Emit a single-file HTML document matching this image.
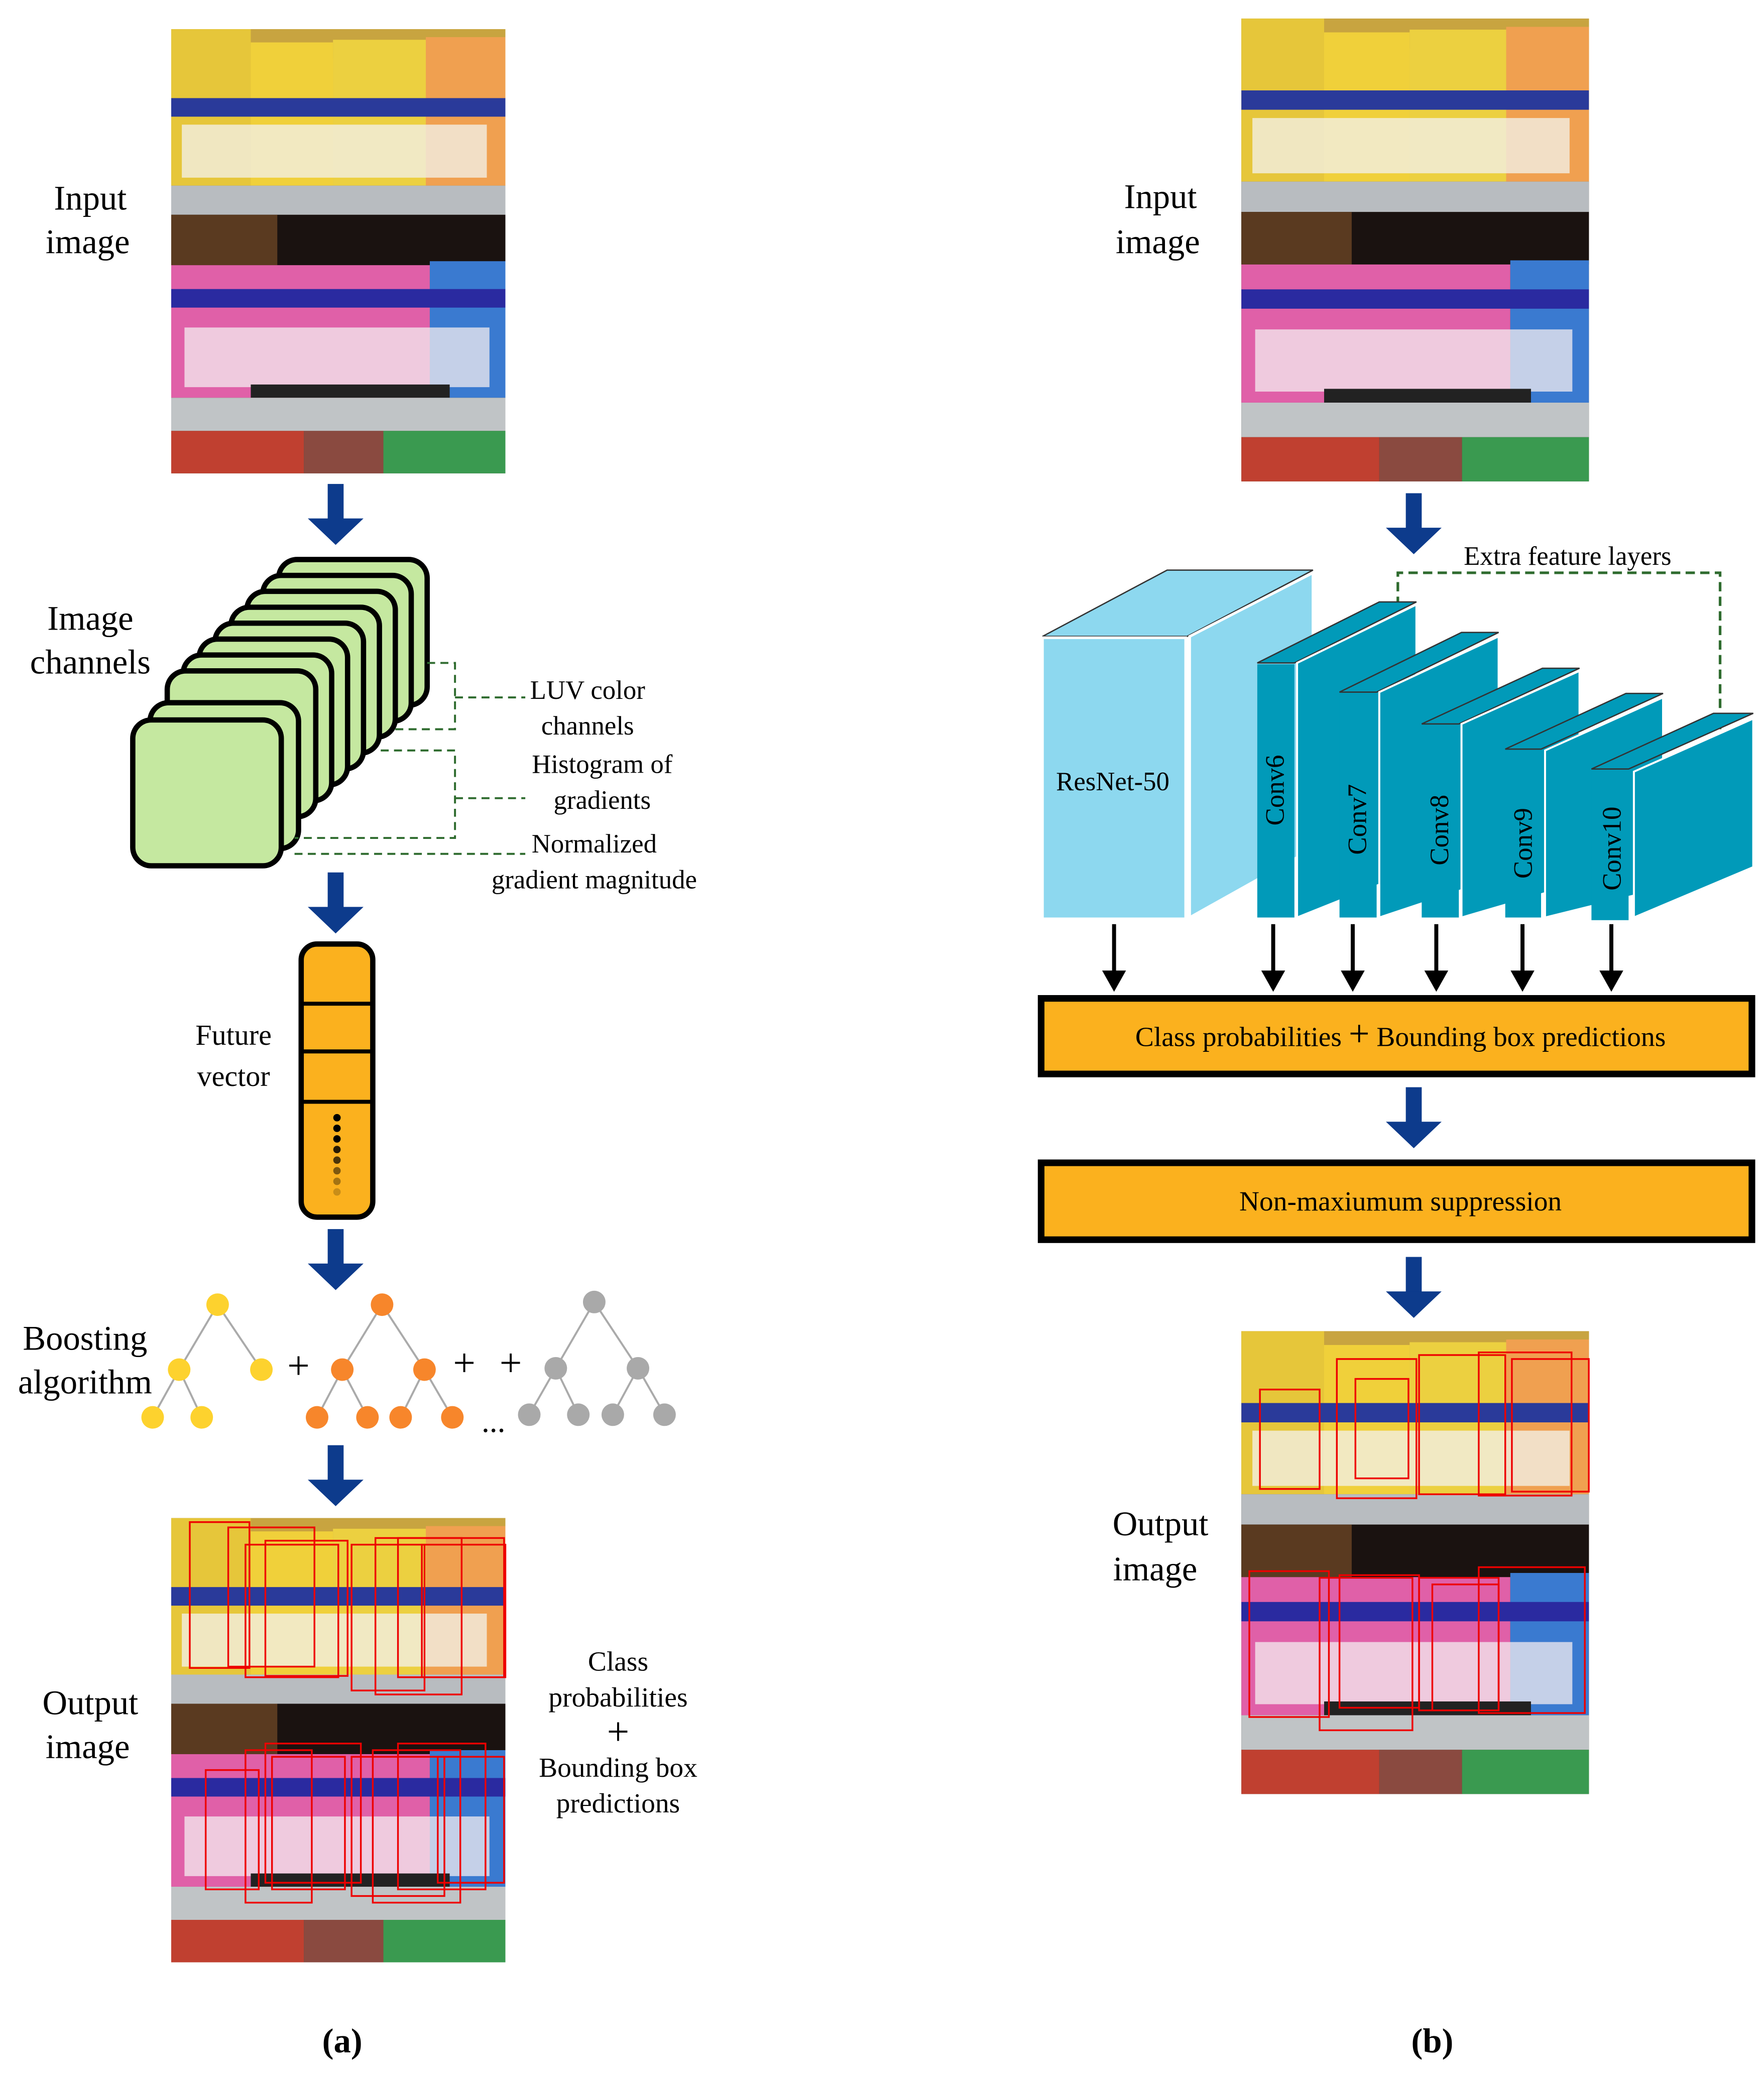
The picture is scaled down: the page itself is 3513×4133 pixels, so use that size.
<!DOCTYPE html>
<html><head><meta charset="utf-8"><style>
html,body{margin:0;padding:0;background:#fff}
svg{display:block}
text{font-family:"Liberation Serif",serif;fill:#000}
</style></head><body>
<svg width="3513" height="4133" viewBox="0 0 1330 1565" xmlns="http://www.w3.org/2000/svg">
<defs>
<g id="photo">
<rect x="0" y="0" width="252" height="335" fill="#3a2a1a"/>
<rect x="0" y="0" width="252" height="118" fill="#e9c232"/>
<rect x="0" y="0" width="252" height="22" fill="#c8a440"/>
<rect x="0" y="0" width="60" height="118" fill="#e6c63a"/>
<rect x="60" y="10" width="62" height="108" fill="#f0d03a"/>
<rect x="122" y="8" width="70" height="110" fill="#ecd040"/>
<rect x="192" y="6" width="60" height="112" fill="#f0a050"/>
<rect x="0" y="52" width="252" height="14" fill="#2a3a9a"/>
<rect x="8" y="72" width="230" height="40" fill="#f2efe4" opacity="0.8"/>
<rect x="0" y="118" width="252" height="22" fill="#b8bcc0"/>
<rect x="0" y="140" width="252" height="38" fill="#1a1210"/>
<rect x="0" y="140" width="80" height="38" fill="#5a3a20"/>
<rect x="0" y="178" width="195" height="100" fill="#e060a8"/>
<rect x="195" y="175" width="57" height="103" fill="#3a7ad0"/>
<rect x="0" y="196" width="252" height="14" fill="#2a2aa0"/>
<rect x="10" y="225" width="230" height="45" fill="#f4eef0" opacity="0.75"/>
<rect x="60" y="268" width="150" height="10" fill="#222"/>
<rect x="0" y="278" width="252" height="25" fill="#c0c4c6"/>
<rect x="0" y="303" width="100" height="32" fill="#c04030"/>
<rect x="100" y="303" width="60" height="32" fill="#8a4a40"/>
<rect x="160" y="303" width="92" height="32" fill="#3a9a50"/>
</g>
<g id="arr"><rect x="-6" y="0" width="12" height="28" fill="#0d3b8c"/><polygon points="-21,26 21,26 0,46" fill="#0d3b8c"/></g>
<g id="ch"><rect x="0" y="0" width="112" height="110" rx="14" fill="#c5e8a0" stroke="#000" stroke-width="4"/></g>
</defs>

<!-- LEFT -->
<use href="#photo" x="129" y="22"/>
<text x="68" y="158" font-size="26" text-anchor="middle">Input</text>
<text x="66" y="191" font-size="26" text-anchor="middle">image</text>
<use href="#arr" x="253" y="365"/>

<use href="#ch" x="210" y="422"/><use href="#ch" x="198" y="434"/><use href="#ch" x="186" y="446"/><use href="#ch" x="174" y="458"/><use href="#ch" x="162" y="470"/><use href="#ch" x="150" y="482"/><use href="#ch" x="138" y="494"/><use href="#ch" x="126" y="506"/><use href="#ch" x="113" y="530"/><use href="#ch" x="100" y="543"/>
<text x="68" y="475" font-size="26" text-anchor="middle">Image</text>
<text x="68" y="508" font-size="26" text-anchor="middle">channels</text>
<g fill="none" stroke="#2e6b2e" stroke-width="1.5" stroke-dasharray="6,4">
<path d="M322,500 H343 V550 H296"/><path d="M343,526 H396"/>
<path d="M287,566 H343 V632 H222"/><path d="M343,602 H396"/>
<path d="M222,644 H396"/>
</g>
<text x="443" y="527" font-size="20" text-anchor="middle">LUV color</text>
<text x="443" y="554" font-size="20" text-anchor="middle">channels</text>
<text x="454" y="583" font-size="20" text-anchor="middle">Histogram of</text>
<text x="454" y="610" font-size="20" text-anchor="middle">gradients</text>
<text x="448" y="643" font-size="20" text-anchor="middle">Normalized</text>
<text x="448" y="670" font-size="20" text-anchor="middle">gradient magnitude</text>
<use href="#arr" x="253" y="658"/>

<rect x="227" y="712" width="54" height="206" rx="12" fill="#fbb11e" stroke="#000" stroke-width="4"/>
<path d="M227,757 H281 M227,793 H281 M227,831 H281" stroke="#000" stroke-width="3"/>
<g fill="#000"><circle cx="254" cy="843" r="2.8"/><circle cx="254" cy="851" r="2.8"/><circle cx="254" cy="859" r="2.8"/><circle cx="254" cy="867" r="2.8" opacity="0.85"/><circle cx="254" cy="875" r="2.8" opacity="0.7"/><circle cx="254" cy="883" r="2.8" opacity="0.5"/><circle cx="254" cy="891" r="2.8" opacity="0.35"/><circle cx="254" cy="899" r="2.8" opacity="0.2"/></g>
<text x="176" y="788" font-size="22" text-anchor="middle">Future</text>
<text x="176" y="819" font-size="22" text-anchor="middle">vector</text>
<use href="#arr" x="253" y="927"/>

<g stroke="#aaa" stroke-width="1.5" fill="none">
<path d="M164,984 L135,1033 L115,1069 M135,1033 L152,1069 M164,984 L197,1033"/>
<path d="M288,984 L258,1033 L239,1069 M258,1033 L277,1069 M288,984 L320,1033 L302,1069 M320,1033 L341,1069"/>
<path d="M448,982 L419,1032 L399,1067 M419,1032 L436,1067 M448,982 L481,1032 L462,1067 M481,1032 L501,1067"/>
</g>
<g fill="#fdd22e"><circle cx="164" cy="984" r="8.5"/><circle cx="135" cy="1033" r="8.5"/><circle cx="197" cy="1033" r="8.5"/><circle cx="115" cy="1069" r="8.5"/><circle cx="152" cy="1069" r="8.5"/></g>
<g fill="#f7862b"><circle cx="288" cy="984" r="8.5"/><circle cx="258" cy="1033" r="8.5"/><circle cx="320" cy="1033" r="8.5"/><circle cx="239" cy="1069" r="8.5"/><circle cx="277" cy="1069" r="8.5"/><circle cx="302" cy="1069" r="8.5"/><circle cx="341" cy="1069" r="8.5"/></g>
<g fill="#a9a9a9"><circle cx="448" cy="982" r="8.5"/><circle cx="419" cy="1032" r="8.5"/><circle cx="481" cy="1032" r="8.5"/><circle cx="399" cy="1067" r="8.5"/><circle cx="436" cy="1067" r="8.5"/><circle cx="462" cy="1067" r="8.5"/><circle cx="501" cy="1067" r="8.5"/></g>
<text x="225" y="1040" font-size="30" text-anchor="middle">+</text>
<text x="350" y="1038" font-size="30" text-anchor="middle">+</text>
<text x="385" y="1038" font-size="30" text-anchor="middle">+</text>
<text x="372" y="1080" font-size="24" text-anchor="middle">...</text>
<text x="64" y="1018" font-size="26" text-anchor="middle">Boosting</text>
<text x="64" y="1051" font-size="26" text-anchor="middle">algorithm</text>
<use href="#arr" x="253" y="1090"/>

<use href="#photo" x="129" y="1145"/>
<g fill="none" stroke="#e00" stroke-width="1.3">
<rect x="143" y="1148" width="45" height="110"/><rect x="172" y="1152" width="65" height="105"/><rect x="185" y="1165" width="70" height="100"/><rect x="200" y="1162" width="62" height="102"/><rect x="265" y="1165" width="55" height="110"/><rect x="283" y="1160" width="65" height="118"/><rect x="300" y="1160" width="80" height="105"/><rect x="318" y="1165" width="63" height="100"/>
<rect x="185" y="1320" width="50" height="115"/><rect x="200" y="1315" width="72" height="105"/><rect x="205" y="1325" width="55" height="100"/><rect x="265" y="1325" width="70" height="105"/><rect x="281" y="1320" width="66" height="115"/><rect x="300" y="1315" width="66" height="110"/><rect x="330" y="1325" width="50" height="95"/><rect x="155" y="1335" width="40" height="90"/>
</g>
<text x="68" y="1293" font-size="26" text-anchor="middle">Output</text>
<text x="66" y="1326" font-size="26" text-anchor="middle">image</text>
<text x="466" y="1260" font-size="21" text-anchor="middle">Class</text>
<text x="466" y="1287" font-size="21" text-anchor="middle">probabilities</text>
<text x="466" y="1316" font-size="30" text-anchor="middle">+</text>
<text x="466" y="1340" font-size="21" text-anchor="middle">Bounding box</text>
<text x="466" y="1367" font-size="21" text-anchor="middle">predictions</text>
<text x="258" y="1548" font-size="26" text-anchor="middle" font-weight="bold">(a)</text>

<!-- RIGHT -->
<use href="#photo" transform="translate(936,14) scale(1.04,1.042)"/>
<text x="875" y="157" font-size="26" text-anchor="middle">Input</text>
<text x="873" y="191" font-size="26" text-anchor="middle">image</text>
<use href="#arr" x="1066" y="372"/>
<text x="1182" y="426" font-size="20" text-anchor="middle">Extra feature layers</text>
<path d="M1054,457 V432 H1297 V550" fill="none" stroke="#2e6b2e" stroke-width="2" stroke-dasharray="7,4"/>

<polygon points="786,480 880,430 990,430 895,480" fill="#8dd8ef" stroke="#333" stroke-width="1"/>
<polygon points="897,480 990,432 990,640 897,692" fill="#8dd8ef" stroke="#fff" stroke-width="2"/>
<rect x="786" y="481" width="108" height="212" fill="#8dd8ef" stroke="#fff" stroke-width="2"/>
<text x="839" y="596" font-size="20" text-anchor="middle">ResNet-50</text>

<g fill="#019ab9">
<polygon points="948,500 1040,454 1068,454 976,500" stroke="#333" stroke-width="1"/><polygon points="978,500 1068,456 1068,656 978,692" stroke="#fff" stroke-width="1.5"/><rect x="948" y="501" width="28" height="191"/>
<polygon points="1010,522 1102,477 1130,477 1038,522" stroke="#333" stroke-width="1"/><polygon points="1040,522 1130,480 1130,662 1040,692" stroke="#fff" stroke-width="1.5"/><rect x="1010" y="523" width="28" height="169"/>
<polygon points="1072,546 1163,504 1191,504 1100,546" stroke="#333" stroke-width="1"/><polygon points="1102,546 1191,506 1191,666 1102,692" stroke="#fff" stroke-width="1.5"/><rect x="1072" y="547" width="28" height="145"/>
<polygon points="1135,565 1226,523 1254,523 1162,565" stroke="#333" stroke-width="1"/><polygon points="1165,566 1254,526 1254,670 1165,692" stroke="#fff" stroke-width="1.5"/><rect x="1135" y="566" width="27" height="126"/>
<polygon points="1200,580 1292,538 1322,538 1228,580" stroke="#333" stroke-width="1"/><polygon points="1232,582 1322,542 1322,654 1232,692" stroke="#fff" stroke-width="1.5"/><rect x="1200" y="581" width="28" height="113"/>
</g>
<g font-size="20">
<text transform="translate(968,596) rotate(-90)" text-anchor="middle">Conv6</text>
<text transform="translate(1030,618) rotate(-90)" text-anchor="middle">Conv7</text>
<text transform="translate(1092,626) rotate(-90)" text-anchor="middle">Conv8</text>
<text transform="translate(1155,636) rotate(-90)" text-anchor="middle">Conv9</text>
<text transform="translate(1222,640) rotate(-90)" text-anchor="middle">Conv10</text>
</g>
<g stroke="#000" stroke-width="3">
<path d="M840,697 V738 M960,697 V738 M1020,697 V738 M1083,697 V738 M1148,697 V738 M1215,697 V738"/>
</g>
<g fill="#000">
<polygon points="831,732 849,732 840,748"/><polygon points="951,732 969,732 960,748"/><polygon points="1011,732 1029,732 1020,748"/><polygon points="1074,732 1092,732 1083,748"/><polygon points="1139,732 1157,732 1148,748"/><polygon points="1206,732 1224,732 1215,748"/>
</g>
<rect x="785" y="753" width="536" height="57" fill="#fbb11e" stroke="#000" stroke-width="5"/>
<text x="1056" y="789" font-size="21" text-anchor="middle">Class probabilities <tspan font-size="28">+</tspan> Bounding box predictions</text>
<use href="#arr" x="1066" y="820"/>
<rect x="785" y="877" width="536" height="58" fill="#fbb11e" stroke="#000" stroke-width="5"/>
<text x="1056" y="913" font-size="21" text-anchor="middle">Non-maxiumum suppression</text>
<use href="#arr" x="1066" y="948"/>

<use href="#photo" transform="translate(936,1004) scale(1.04,1.042)"/>
<g fill="none" stroke="#e00" stroke-width="1.3">
<rect x="950" y="1048" width="45" height="75"/><rect x="1008" y="1025" width="60" height="105"/><rect x="1022" y="1040" width="40" height="75"/><rect x="1070" y="1022" width="65" height="105"/><rect x="1115" y="1020" width="70" height="108"/><rect x="1140" y="1025" width="58" height="100"/>
<rect x="942" y="1185" width="60" height="110"/><rect x="995" y="1190" width="70" height="115"/><rect x="1010" y="1188" width="60" height="100"/><rect x="1070" y="1190" width="60" height="100"/><rect x="1080" y="1195" width="50" height="95"/><rect x="1115" y="1182" width="80" height="110"/>
</g>
<text x="875" y="1158" font-size="26" text-anchor="middle">Output</text>
<text x="871" y="1192" font-size="26" text-anchor="middle">image</text>
<text x="1080" y="1548" font-size="26" text-anchor="middle" font-weight="bold">(b)</text>
</svg>
</body></html>
